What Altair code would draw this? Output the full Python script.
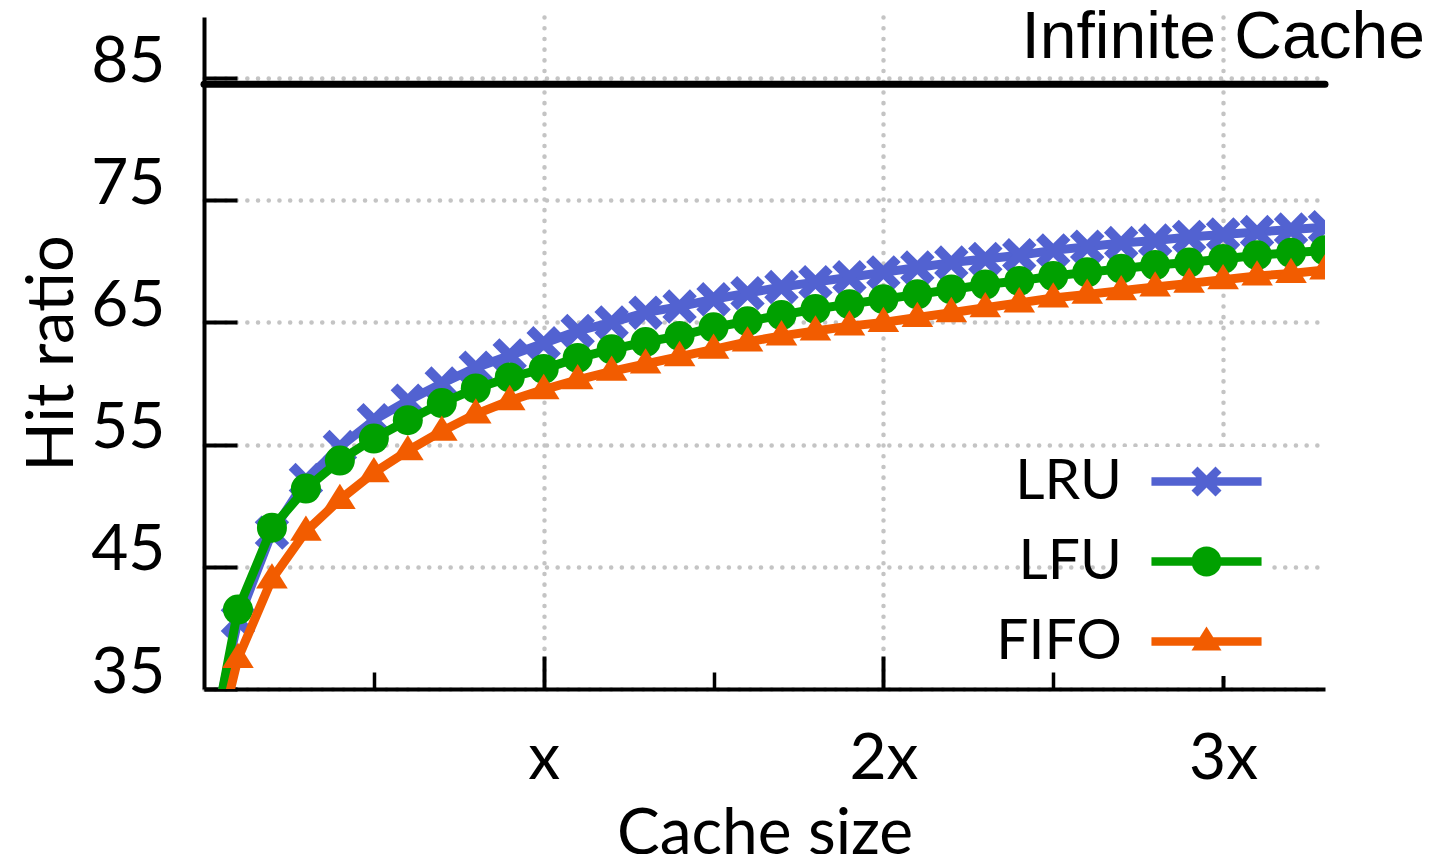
import altair as alt
import pandas as pd

# ---------------- data ----------------
cache_size = [0.0, 0.1, 0.2, 0.3, 0.4, 0.5, 0.6, 0.7, 0.8, 0.9, 1.0,
              1.1, 1.2, 1.3, 1.4, 1.5, 1.6, 1.7, 1.8, 1.9, 2.0,
              2.1, 2.2, 2.3, 2.4, 2.5, 2.6, 2.7, 2.8, 2.9, 3.0,
              3.1, 3.2, 3.3]
lru = [28.0, 40.6, 47.8, 52.1, 54.8, 57.0, 58.6, 60.0, 61.3, 62.3, 63.3,
       64.3, 65.0, 65.8, 66.3, 66.9, 67.4, 67.9, 68.3, 68.7, 69.1,
       69.5, 69.9, 70.2, 70.5, 70.9, 71.2, 71.5, 71.7, 72.0, 72.2,
       72.4, 72.6, 72.8]
lfu = [27.0, 41.5, 48.2, 51.4, 53.7, 55.5, 57.0, 58.4, 59.6, 60.5, 61.2,
       62.1, 62.8, 63.4, 63.9, 64.6, 65.1, 65.6, 66.1, 66.5, 66.9,
       67.3, 67.7, 68.1, 68.4, 68.8, 69.1, 69.4, 69.7, 69.9, 70.2,
       70.5, 70.7, 70.9]
fifo = [26.0, 37.5, 44.0, 47.9, 50.5, 52.7, 54.5, 56.1, 57.5, 58.6, 59.5,
        60.3, 61.0, 61.6, 62.2, 62.8, 63.4, 63.9, 64.3, 64.7, 65.0,
        65.4, 65.8, 66.2, 66.6, 67.0, 67.3, 67.6, 67.9, 68.2, 68.5,
        68.8, 69.0, 69.3]
series_names = ["LRU", "LFU", "FIFO"]
series_colors = ["#5262d1", "#00a000", "#f25c00"]
infinite_cache = 84.5
infinite_label = "Infinite Cache"
y_ticks = [35, 45, 55, 65, 75, 85]
x_major_ticks = [1, 2, 3]
x_major_labels = ["x", "2x", "3x"]
x_minor_ticks = [0.5, 1.5, 2.5]

# ---------------- marker shapes ----------------
X_PATH = ("M0,-0.5L0.75,-1.25L1.25,-0.75L0.5,0L1.25,0.75L0.75,1.25L0,0.5"
          "L-0.75,1.25L-1.25,0.75L-0.5,0L-1.25,-0.75L-0.75,-1.25Z")
TRI_PATH = "M0,-1L1,0.6L-1,0.6Z"
marker_shapes = [X_PATH, "circle", TRI_PATH]
marker_sizes = [760, 900, 1000]

LINE_PATH = "M-3.67,-0.28H3.67V0.28H-3.67Z"
legend_shapes = [
    LINE_PATH + "M0,-0.4L0.6,-1L1,-0.6L0.4,0L1,0.6L0.6,1L0,0.4L-0.6,1L-1,0.6L-0.4,0L-1,-0.6L-0.6,-1Z",
    LINE_PATH + "M1,0A1,1,0,1,1,-1,0A1,1,0,1,1,1,0Z",
    LINE_PATH + "M0,-1L1,0.6L-1,0.6Z",
]

rows = []
for name, vals in zip(series_names, [lru, lfu, fifo]):
    for xv, yv in zip(cache_size, vals):
        rows.append({"size": xv, "ratio": yv, "policy": name})
df = pd.DataFrame(rows)
ref_df = pd.DataFrame({"size": [cache_size[-1]], "ratio": [infinite_cache],
                       "label": [infinite_label]})

# ---------------- scales / axes ----------------
W, H = 1121, 672
FONT = "Lato"
GRID = dict(grid=True, gridColor="#c4c4c4", gridDash=[0.1, 10.6], gridWidth=4.5, gridCap="round")

x_scale = alt.Scale(domain=[0, 3.3], nice=False, zero=False)
y_scale = alt.Scale(domain=[35, 90], nice=False, zero=False)

label_expr = " : ".join(
    [f"datum.value == {v} ? '{l}'" for v, l in zip(x_major_ticks[:-1], x_major_labels[:-1])]
    + [f"'{x_major_labels[-1]}'"])

x_major_axis = alt.Axis(
    orient="bottom", values=x_major_ticks, labelExpr=label_expr,
    tickSize=alt.ExprRef(expr="-33"), tickWidth=4, tickColor="black",
    domain=True, domainColor="black", domainWidth=4,
    labelPadding=71.5, labelFont=FONT, labelFontSize=64, labelColor="black",
    labelFlush=False, labelOverlap=False, labelBaseline="top",
    title="Cache size", titleFont=FONT, titleFontSize=64, titleFontWeight="normal",
    titleColor="black", titleX=W / 2, titleY=164, titleBaseline="alphabetic",
    titleAlign="center", titleAngle=0, **GRID)
x_minor_axis = alt.Axis(
    orient="bottom", values=x_minor_ticks, tickSize=alt.ExprRef(expr="-17"),
    tickWidth=3.5, tickColor="black", labels=False, domain=False, grid=False, title=None)

y_axis = alt.Axis(
    values=y_ticks, tickSize=alt.ExprRef(expr="-33"), tickWidth=4, tickColor="black",
    domain=True, domainColor="black", domainWidth=4,
    labelPadding=72, labelFont=FONT, labelFontSize=64, labelColor="black",
    labelOffset=alt.ExprRef(expr="-16"), labelFlush=False, labelOverlap=False,
    labelBaseline="middle",
    title="Hit ratio", titleFont=FONT, titleFontSize=65, titleFontWeight="normal",
    titleColor="black", titleX=-132, titleY=H / 2, titleAngle=270,
    titleBaseline="alphabetic", titleAlign="center", **GRID)

y_enc = alt.Y("ratio:Q", scale=y_scale, axis=y_axis)
x_none = alt.X("size:Q", scale=x_scale, axis=None)

base = alt.Chart(df)

layers = []
# infinite cache reference line
layers.append(
    alt.Chart(ref_df).mark_rule(color="black", strokeWidth=7, strokeCap="round").encode(
        y=y_enc))
# label of the reference line (carries the minor x ticks axis)
layers.append(
    alt.Chart(ref_df).mark_text(
        align="right", baseline="alphabetic", font="Liberation Sans", fontSize=66,
        color="black", dx=100, dy=-26).encode(
        x=alt.X("size:Q", scale=x_scale, axis=x_minor_axis),
        y=y_enc, text="label:N"))

for i, (name, color, shp, sz) in enumerate(zip(series_names, series_colors, marker_shapes, marker_sizes)):
    xe = alt.X("size:Q", scale=x_scale, axis=x_major_axis) if i == 0 else x_none
    layers.append(
        base.transform_filter(alt.datum.policy == name).mark_line(
            color=color, strokeWidth=9, strokeJoin="round", strokeCap="round", clip=True
        ).encode(x=xe, y=y_enc))
    layers.append(
        base.transform_filter(alt.datum.policy == name).mark_point(
            color=color, fill=color, filled=True, shape=shp, size=sz, opacity=1,
            strokeWidth=0, clip=True
        ).encode(x=x_none, y=y_enc))

# legend carrier layer (no rows drawn)
legend = alt.Legend(
    title=None, orient="none", legendX=916, legendY=430,
    symbolOffset=52, labelOffset=alt.ExprRef(expr="-113"), labelAlign="right",
    labelBaseline="middle",
    labelFont=FONT, labelFontSize=57, labelColor="black", labelLimit=300,
    symbolSize=900, symbolStrokeWidth=0, fillColor="white", padding=6,
    rowPadding=22, symbolOpacity=1)
layers.append(
    base.transform_filter("false").mark_point(filled=True, opacity=1).encode(
        x=x_none, y=y_enc,
        color=alt.Color("policy:N", scale=alt.Scale(domain=series_names, range=series_colors),
                        legend=legend),
        shape=alt.Shape("policy:N", scale=alt.Scale(domain=series_names, range=legend_shapes),
                        legend=legend)))

chart = alt.layer(*layers).resolve_axis(x="independent").properties(
    width=W, height=H,
    autosize=alt.AutoSizeParams(type="none"),
    padding={"left": 196, "top": 9, "right": 100, "bottom": 165},
    background="white",
).configure_view(stroke=None)

chart.save("out.html", embed_options={"renderer": "svg", "actions": False})
